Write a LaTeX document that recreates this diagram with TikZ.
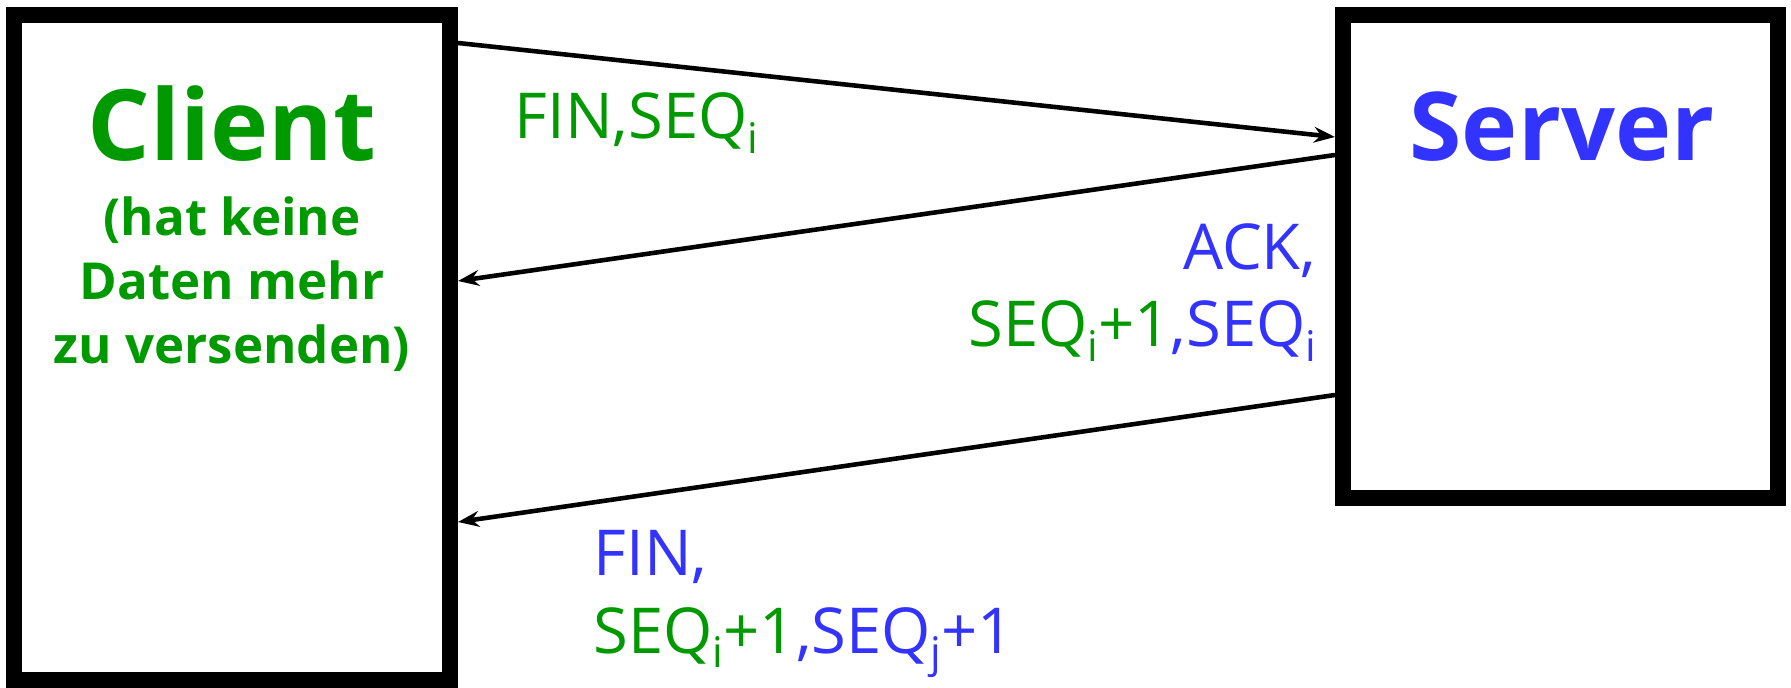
\documentclass[tikz,border=0pt]{standalone}
\usepackage{fontspec}
\setmainfont{Open Sans}
\usetikzlibrary{arrows.meta}

\definecolor{cgreen}{RGB}{0,153,0}
\definecolor{cblue}{RGB}{51,51,255}
% lowered index letter
\newcommand{\idx}[1]{\raisebox{-4pt}{\fontsize{12}{12}\selectfont #1}}

\begin{document}
\begin{tikzpicture}[x=0.01cm,y=-0.01cm,
    host/.style={draw,line width=4.5pt,minimum width=4.36cm},
    msg/.style={line width=1.3pt,-{Stealth[length=6pt,width=4.5pt,inset=2pt]}},
    lbl/.style={font=\fontsize{18}{22}\selectfont,inner sep=0pt}]
  \useasboundingbox (0,0) rectangle (1791,688);

  % the two hosts
  \node[host,minimum height=6.65cm] (client) at (232,347.5) {};
  \node[host,minimum width=4.35cm,minimum height=4.83cm] (server) at (1560.5,256.5) {};

  \node[anchor=base,inner sep=0pt,cgreen,font=\fontsize{28}{28}\selectfont\bfseries] (clientname) at (232,160) {Client};
  \node[anchor=base,inner sep=0pt,align=center,cgreen,font=\fontsize{14.5}{18.1}\selectfont\bfseries] (clientnote) at (232,363) {(hat keine\\Daten mehr\\zu versenden)};
  \node[anchor=base,inner sep=0pt,cblue,font=\fontsize{27}{27}\selectfont\bfseries] (servername) at (1562,160) {Server};

  % messages
  \draw[msg] (client.east |- 0,43) -- (server.west |- 0,137);
  \draw[msg] (server.west |- 0,155) -- (client.east |- 0,281);
  \draw[msg] (server.west |- 0,395) -- (client.east |- 0,522);

  \node[lbl,anchor=base west,cgreen] (finlbl) at (514,139) {FIN,SEQ\idx{i}};
  \node[lbl,anchor=base east,align=right] (acklbl) at (1317,347)
    {\textcolor{cblue}{ACK,}\\\textcolor{cgreen}{SEQ\idx{i}+1}\textcolor{cblue}{,SEQ\idx{i}}};
  \node[lbl,anchor=base west,align=left] (finacklbl) at (593,653)
    {\textcolor{cblue}{FIN,}\\\textcolor{cgreen}{SEQ\idx{i}+1}\textcolor{cblue}{,SEQ\idx{j}+1}};
\end{tikzpicture}
\end{document}
